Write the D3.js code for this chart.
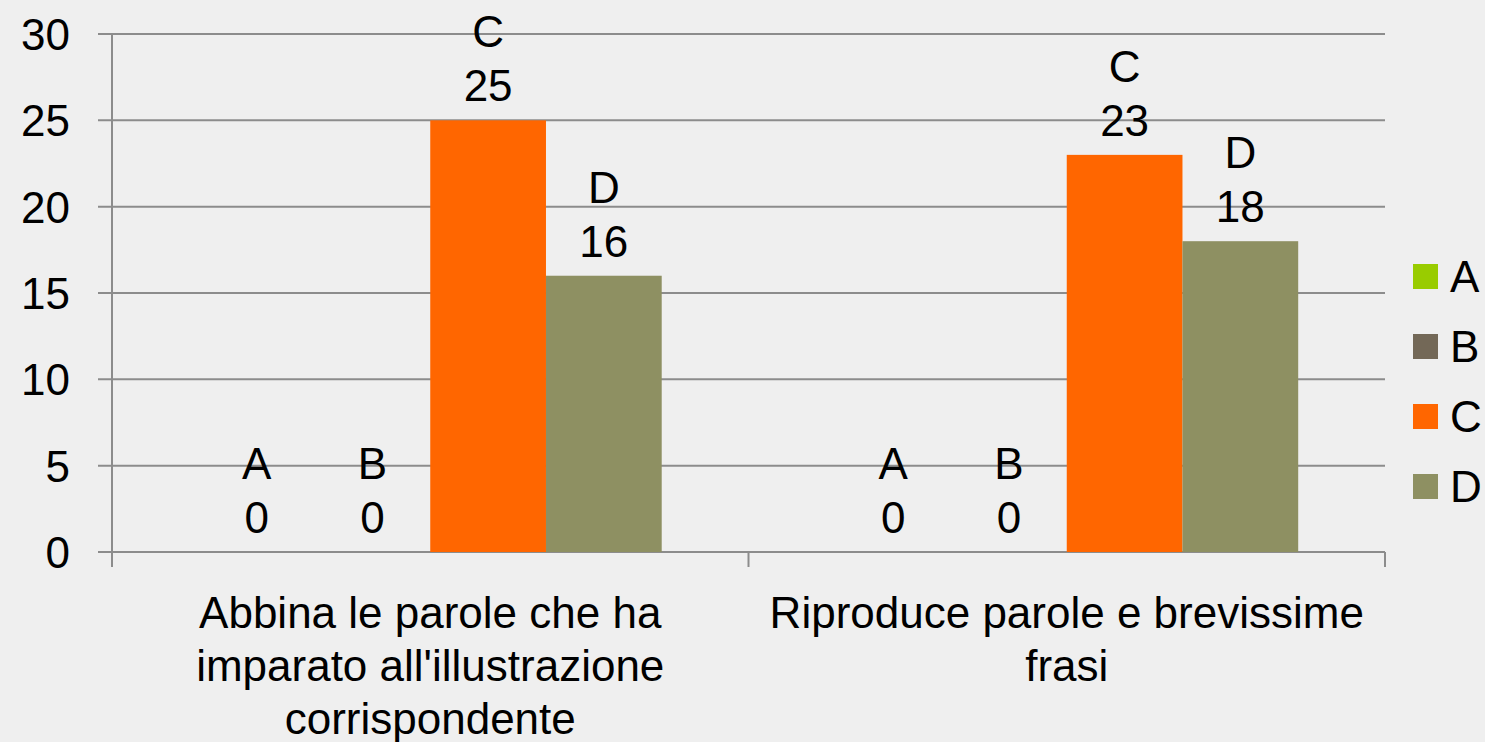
<!DOCTYPE html>
<html>
<head>
<meta charset="utf-8">
<script src="https://cdn.jsdelivr.net/npm/d3@7"></script>
<style>
  body { margin: 0; background: #efefef; }
  svg { display: block; font-family: "Liberation Sans", Arial, sans-serif; }
</style>
</head>
<body>
<div id="chart"></div>
<script>
// data
var categories = [
  ["Abbina le parole che ha", "imparato all'illustrazione", "corrispondente"],
  ["Riproduce parole e brevissime", "frasi"]
];
var seriesNames = ["A", "B", "C", "D"];
var seriesColors = ["#99cc00", "#736857", "#ff6600", "#8e9062"];
var valuesA = [0, 0];
var valuesB = [0, 0];
var valuesC = [25, 23];
var valuesD = [16, 18];
var yTicks = [0, 5, 10, 15, 20, 25, 30];

var allValues = [valuesA, valuesB, valuesC, valuesD];

var width = 1485, height = 742;
var margin = {top: 34, right: 100, bottom: 190, left: 112};
var plotW = 1385 - margin.left,
    plotH = 552 - margin.top;

var svg = d3.select("#chart")
  .append("svg")
    .attr("width", width)
    .attr("height", height);

svg.append("rect")
  .attr("width", width).attr("height", height)
  .attr("fill", "#efefef");

var g = svg.append("g")
  .attr("transform", "translate(" + margin.left + "," + margin.top + ")");

var x0 = d3.scaleBand()
  .domain(d3.range(categories.length))
  .range([0, plotW]);

var x1 = d3.scaleBand()
  .domain(seriesNames)
  .range([0, x0.bandwidth()])
  .paddingOuter(0.75);

var y = d3.scaleLinear()
  .domain([0, 30])
  .range([plotH, 0]);

// gridlines
g.selectAll(".grid")
  .data(yTicks)
  .enter().append("line")
    .attr("x1", -14).attr("x2", plotW)
    .attr("y1", function(d) { return y(d); })
    .attr("y2", function(d) { return y(d); })
    .attr("stroke", "#8c8c8c")
    .attr("stroke-width", 2);

// y axis line
g.append("line")
  .attr("x1", 0).attr("x2", 0)
  .attr("y1", 0).attr("y2", plotH + 15)
  .attr("stroke", "#8c8c8c").attr("stroke-width", 2);

// category dividers
g.selectAll(".divider")
  .data(d3.range(1, categories.length + 1))
  .enter().append("line")
    .attr("x1", function(d) { return d * x0.step(); })
    .attr("x2", function(d) { return d * x0.step(); })
    .attr("y1", plotH).attr("y2", plotH + 15)
    .attr("stroke", "#8c8c8c").attr("stroke-width", 2);

// y tick labels
g.selectAll(".ylab")
  .data(yTicks)
  .enter().append("text")
    .attr("x", -42)
    .attr("y", function(d) { return y(d); })
    .attr("dy", "0.36em")
    .attr("text-anchor", "end")
    .attr("font-size", 44)
    .attr("fill", "#000")
    .text(function(d) { return d; });

// bars
var groups = g.selectAll(".cat")
  .data(d3.range(categories.length))
  .enter().append("g")
    .attr("transform", function(i) { return "translate(" + x0(i) + ",0)"; });

var barData = function(i) {
  return seriesNames.map(function(s, k) {
    return {name: s, value: allValues[k][i], color: seriesColors[k]};
  });
};

groups.selectAll("rect")
  .data(barData)
  .enter().append("rect")
    .attr("x", function(d) { return x1(d.name); })
    .attr("width", x1.bandwidth())
    .attr("y", function(d) { return y(d.value); })
    .attr("height", function(d) { return plotH - y(d.value); })
    .attr("fill", function(d) { return d.color; });

// data labels: series name over value
var labels = groups.selectAll(".lab")
  .data(barData)
  .enter().append("text")
    .attr("text-anchor", "middle")
    .attr("font-size", 44)
    .attr("fill", "#000");
labels.append("tspan")
  .attr("x", function(d) { return x1(d.name) + x1.bandwidth() / 2; })
  .attr("y", function(d) { return y(d.value) - 89; })
  .attr("dy", "0.36em")
  .text(function(d) { return d.name; });
labels.append("tspan")
  .attr("x", function(d) { return x1(d.name) + x1.bandwidth() / 2; })
  .attr("y", function(d) { return y(d.value) - 35; })
  .attr("dy", "0.36em")
  .text(function(d) { return d.value; });

// category labels
var catText = groups.append("text")
  .attr("text-anchor", "middle")
  .attr("font-size", 44)
  .attr("fill", "#000");
catText.selectAll("tspan")
  .data(function(i) { return categories[i]; })
  .enter().append("tspan")
    .attr("x", x0.bandwidth() / 2)
    .attr("y", function(d, j) { return plotH + 60 + j * 53; })
    .attr("dy", "0.36em")
    .text(function(d) { return d; });

// legend
var legend = svg.append("g")
  .attr("transform", "translate(1413,264)");
var item = legend.selectAll(".item")
  .data(seriesNames)
  .enter().append("g")
    .attr("transform", function(d, i) { return "translate(0," + (i * 70) + ")"; });
item.append("rect")
  .attr("width", 25).attr("height", 25)
  .attr("fill", function(d, i) { return seriesColors[i]; });
item.append("text")
  .attr("x", 37).attr("y", 12.5)
  .attr("dy", "0.36em")
  .attr("font-size", 44)
  .attr("fill", "#000")
  .text(function(d) { return d; });
</script>
</body>
</html>
